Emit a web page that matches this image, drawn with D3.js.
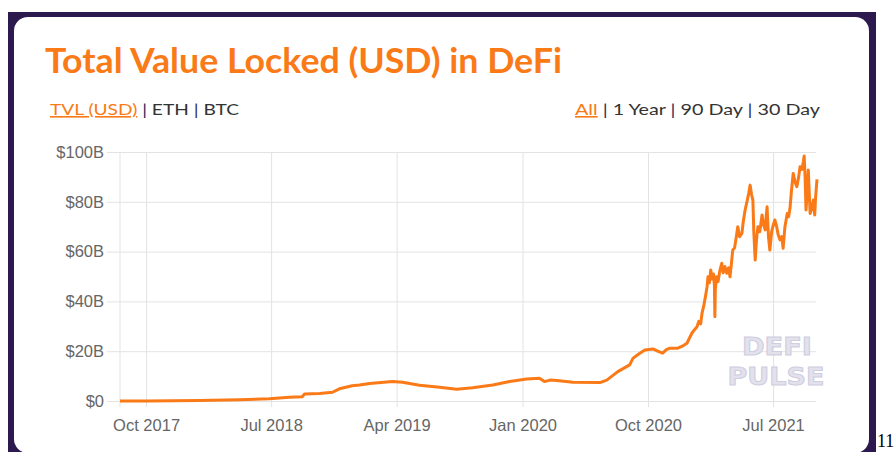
<!DOCTYPE html>
<html>
<head>
<meta charset="utf-8">
<script src="https://cdn.jsdelivr.net/npm/d3@7"></script>
<style>
  html, body { margin: 0; padding: 0; background: #fff; }
  svg { display: block; }
</style>
</head>
<body>
<div id="chart"></div>
<script>
// TVL in billions of USD
const dates = [
  "2017-08-05","2017-10-01","2018-01-25","2018-04-22","2018-06-27","2018-08-10","2018-09-07","2018-09-12",
  "2018-10-15","2018-11-12","2018-11-27","2018-12-25","2019-01-10","2019-02-01","2019-03-23","2019-04-14",
  "2019-05-21","2019-07-04","2019-08-10","2019-09-14","2019-10-28","2019-12-04","2020-01-10","2020-02-07",
  "2020-02-18","2020-03-01","2020-03-16","2020-04-20","2020-06-18","2020-07-03","2020-07-27","2020-08-22",
  "2020-08-29","2020-09-10","2020-09-24","2020-10-12","2020-10-22","2020-11-02","2020-11-10","2020-11-18",
  "2020-12-05","2020-12-15","2020-12-25","2021-01-05","2021-01-10","2021-01-16","2021-01-20","2021-01-24",
  "2021-01-27","2021-01-31","2021-02-04","2021-02-07","2021-02-09","2021-02-12","2021-02-15","2021-02-18",
  "2021-02-21","2021-02-23","2021-02-24","2021-02-25","2021-02-28","2021-03-03","2021-03-07","2021-03-11",
  "2021-03-14","2021-03-18","2021-03-22","2021-03-26","2021-03-29","2021-04-01","2021-04-04","2021-04-08",
  "2021-04-11","2021-04-15","2021-04-19","2021-04-24","2021-04-27","2021-05-01","2021-05-05","2021-05-09",
  "2021-05-12","2021-05-15","2021-05-18","2021-05-20","2021-05-23","2021-05-26","2021-05-29","2021-06-02",
  "2021-06-07","2021-06-10","2021-06-14","2021-06-16","2021-06-18","2021-06-21","2021-06-24","2021-06-28",
  "2021-07-02","2021-07-05","2021-07-09","2021-07-12","2021-07-16","2021-07-20","2021-07-23","2021-07-27",
  "2021-08-01","2021-08-04","2021-08-07","2021-08-10","2021-08-14","2021-08-18","2021-08-22","2021-08-26",
  "2021-08-29","2021-09-02","2021-09-05","2021-09-07","2021-09-09","2021-09-11","2021-09-14","2021-09-16",
  "2021-09-18","2021-09-20","2021-09-23","2021-09-27","2021-09-30","2021-10-02","2021-10-05"
];
const tvl = [
  0.0, 0.05, 0.25, 0.55, 0.9, 1.5, 1.7, 2.8,
  3.0, 3.5, 4.9, 6.1, 6.4, 7.0, 7.8, 7.5,
  6.3, 5.5, 4.7, 5.3, 6.4, 7.8, 8.8, 9.1,
  7.8, 8.4, 8.2, 7.5, 7.4, 8.4, 11.8, 14.5,
  17.1, 18.8, 20.5, 20.9, 20.0, 19.2, 20.6, 21.2,
  21.2, 22.0, 23.2, 27.3, 28.5, 29.8, 32.0, 31.0,
  35.3, 38.5, 42.6, 46.0, 49.9, 47.5, 52.6, 49.0,
  51.0, 46.5, 33.8, 45.0, 49.9, 48.0, 52.5, 55.3,
  51.5, 54.0, 51.3, 53.5, 49.9, 55.0, 60.6, 61.5,
  65.0, 70.0, 66.0, 67.3, 72.0, 76.7, 80.0, 83.5,
  86.7, 83.0, 80.7, 68.0, 56.6, 65.0, 70.0, 68.0,
  74.7, 71.0, 68.7, 74.0, 78.0, 66.0, 60.6, 68.0,
  71.0, 72.7, 70.0, 67.0, 64.7, 66.0, 61.3, 70.0,
  75.3, 74.0, 77.4, 84.0, 91.4, 88.0, 86.1, 90.0,
  94.1, 93.0, 96.0, 98.4, 90.0, 76.7, 85.0, 92.8,
  84.0, 75.3, 77.0, 80.7, 74.7, 82.0, 89.0
];
const yTicks = [0, 20, 40, 60, 80, 100];
const xTicks = ["2017-10-01", "2018-07-01", "2019-04-01", "2020-01-01", "2020-10-01", "2021-07-01"];
const leftTabs = ["TVL (USD)", "ETH", "BTC"];
const rightTabs = ["All", "1 Year", "90 Day", "30 Day"];

const parse = d3.timeParse("%Y-%m-%d");
const data = dates.map((d, i) => ({date: parse(d), value: tvl[i]}));

const width = 896, height = 452;
const orange = "#fa7a17";

const svg = d3.select("#chart").append("svg")
    .attr("width", width)
    .attr("height", height);

// purple frame + white card
svg.append("rect")
    .attr("x", 8).attr("y", 12)
    .attr("width", 868).attr("height", 460)
    .attr("fill", "#2c1a4f");
svg.append("rect")
    .attr("x", 14).attr("y", 17)
    .attr("width", 855).attr("height", 436)
    .attr("rx", 14)
    .attr("fill", "#fff");

// stray page number to the right of the card
svg.append("text")
    .attr("x", 877).attr("y", 447)
    .attr("font-family", "Liberation Serif, serif")
    .attr("font-size", 18)
    .attr("fill", "#000")
    .text("11");

// squeeze/stretch a text element to a given width
function fitWidth(sel, w) {
    sel.attr("textLength", w).attr("lengthAdjust", "spacingAndGlyphs");
}

// title
const title = svg.append("text")
    .attr("x", 45).attr("y", 73)
    .attr("font-family", "Lato, sans-serif")
    .attr("font-weight", 700)
    .attr("font-size", 35)
    .attr("fill", orange)
    .text("Total Value Locked (USD) in DeFi");
fitWidth(title, 517);

// tab rows
function tabRow(labels, x, w) {
    const t = svg.append("text")
        .attr("x", x).attr("y", 115)
        .attr("font-family", "Lato, sans-serif")
        .attr("font-size", 16)
        .attr("fill", "#333");
    labels.forEach((l, i) => {
        if (i > 0) t.append("tspan").attr("fill", "#2c2a5a").text(" | ");
        const s = t.append("tspan").text(l);
        if (i === 0) s.attr("fill", orange).attr("text-decoration", "underline");
    });
    fitWidth(t, w);
}
tabRow(leftTabs, 50, 189);
tabRow(rightTabs, 575, 245);

// scales
const x = d3.scaleTime()
    .domain([parse(dates[0]), parse(dates[dates.length - 1])])
    .range([120, 817]);
const y = d3.scaleLinear()
    .domain([0, 100])
    .range([401, 152]);

// y axis with grid
const yAxis = svg.append("g")
    .attr("transform", "translate(107,0)")
    .call(d3.axisLeft(y)
        .tickValues(yTicks)
        .tickSize(-709)
        .tickPadding(3)
        .tickFormat(d => d === 0 ? "$0" : "$" + d + "B"));
yAxis.select(".domain").remove();
yAxis.selectAll(".tick line").attr("stroke", "#e3e3e3");
yAxis.selectAll(".tick text")
    .attr("font-family", "Liberation Sans, Arial, sans-serif")
    .attr("font-size", 16.5)
    .attr("fill", "#666");

// x axis with grid
const xAxis = svg.append("g")
    .attr("transform", "translate(0,407)")
    .call(d3.axisBottom(x)
        .tickValues(xTicks.map(parse))
        .tickSize(-255)
        .tickPadding(12)
        .tickFormat(d3.timeFormat("%b %Y")));
xAxis.select(".domain").remove();
xAxis.selectAll(".tick line").attr("stroke", "#e3e3e3");
xAxis.selectAll(".tick text")
    .attr("font-family", "Liberation Sans, Arial, sans-serif")
    .attr("font-size", 16.5)
    .attr("fill", "#666");

// left edge of plot
svg.append("line")
    .attr("x1", 120).attr("x2", 120)
    .attr("y1", 152).attr("y2", 407)
    .attr("stroke", "#e3e3e3");

// watermark
const wm = svg.append("g")
    .attr("font-family", "DejaVu Sans, sans-serif")
    .attr("font-weight", 700)
    .attr("font-size", 25)
    .attr("fill", "#e2e1ec")
    .attr("stroke", "#cfcde0")
    .attr("stroke-width", 1)
    .attr("text-anchor", "middle");
const wm1 = wm.append("text").attr("x", 777).attr("y", 355).text("DEFI");
fitWidth(wm1, 70);
const wm2 = wm.append("text").attr("x", 776).attr("y", 385).text("PULSE");
fitWidth(wm2, 97);

// the TVL line
const line = d3.line()
    .x(d => x(d.date))
    .y(d => y(d.value));

svg.append("path")
    .datum(data)
    .attr("fill", "none")
    .attr("stroke", orange)
    .attr("stroke-width", 3)
    .attr("stroke-linejoin", "round")
    .attr("d", line);
</script>
</body>
</html>
